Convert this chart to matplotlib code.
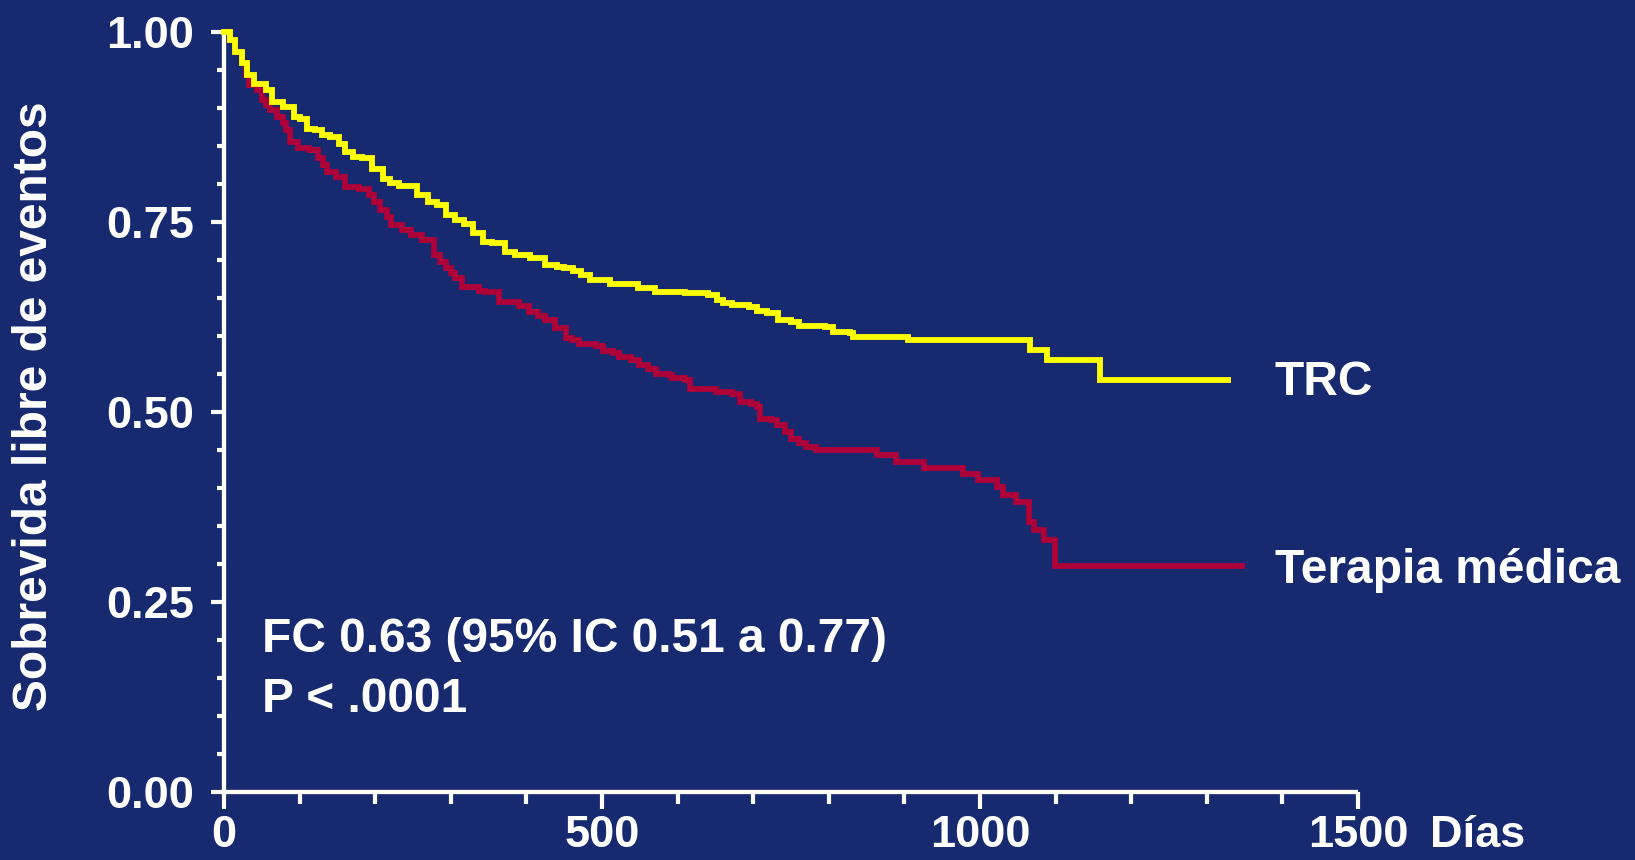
import matplotlib
matplotlib.use("Agg")
import matplotlib.pyplot as plt
from matplotlib.ticker import MultipleLocator, FormatStrFormatter
import matplotlib.transforms as mtransforms

# ---------------- data (Kaplan-Meier steps) ----------------
trc_days = [0, 8, 15, 24, 30, 40, 55, 64, 78, 92, 100, 110, 120, 130, 140, 152, 160,
            170, 182, 196, 210, 220, 232, 255, 270, 282, 294, 305, 318, 330, 342, 355,
            372, 385, 405, 425, 440, 450, 462, 472, 484, 510, 548, 570, 610, 640, 652,
            660, 672, 694, 705, 718, 733, 750, 760, 795, 806, 828, 832, 905, 1066,
            1089, 1159, 1328]
trc_surv = [1.0, 0.989, 0.974, 0.959, 0.943, 0.932, 0.924, 0.908, 0.901, 0.888, 0.886,
            0.873, 0.871, 0.864, 0.862, 0.852, 0.842, 0.836, 0.834, 0.820, 0.807, 0.801,
            0.798, 0.786, 0.776, 0.772, 0.759, 0.752, 0.748, 0.735, 0.724, 0.722, 0.711,
            0.707, 0.702, 0.693, 0.691, 0.689, 0.685, 0.680, 0.674, 0.669, 0.663, 0.658,
            0.657, 0.654, 0.647, 0.644, 0.641, 0.638, 0.633, 0.630, 0.621, 0.619, 0.613,
            0.612, 0.605, 0.604, 0.599, 0.595, 0.582, 0.569, 0.542, 0.542]

med_days = [0, 8, 15, 24, 29, 33, 44, 50, 56, 61, 70, 78, 82, 87, 98, 112, 124, 131,
            136, 148, 160, 178, 192, 198, 207, 215, 221, 235, 248, 262, 278, 286, 294,
            300, 306, 315, 337, 345, 364, 390, 403, 415, 425, 438, 452, 460, 469, 492,
            501, 515, 523, 538, 549, 561, 571, 588, 592, 610, 616, 651, 672, 682, 697,
            705, 709, 724, 732, 742, 750, 760, 770, 783, 864, 889, 926, 978, 998, 1022,
            1030, 1048, 1065, 1071, 1084, 1099, 1346]
med_surv = [1.0, 0.989, 0.974, 0.959, 0.943, 0.930, 0.924, 0.911, 0.904, 0.897, 0.888,
            0.880, 0.871, 0.855, 0.847, 0.845, 0.834, 0.825, 0.816, 0.809, 0.796, 0.793,
            0.785, 0.776, 0.766, 0.756, 0.746, 0.740, 0.733, 0.726, 0.707, 0.698, 0.689,
            0.683, 0.676, 0.665, 0.659, 0.658, 0.645, 0.639, 0.632, 0.626, 0.621, 0.610,
            0.597, 0.595, 0.590, 0.587, 0.580, 0.578, 0.572, 0.569, 0.562, 0.557, 0.550,
            0.549, 0.545, 0.542, 0.530, 0.526, 0.524, 0.513, 0.511, 0.507, 0.491, 0.490,
            0.483, 0.474, 0.464, 0.459, 0.454, 0.450, 0.444, 0.434, 0.426, 0.418, 0.411,
            0.401, 0.391, 0.381, 0.355, 0.345, 0.332, 0.298, 0.298]

x_ticks = [0, 500, 1000, 1500]
y_ticks = [0.0, 0.25, 0.50, 0.75, 1.00]
y_label = "Sobrevida libre de eventos"
x_unit = "Días"
series_names = ["TRC", "Terapia médica"]
stats_lines = ["FC 0.63 (95% IC 0.51 a 0.77)", "P < .0001"]

# ---------------- style ----------------
BG = "#172A6F"
YEL = "#FFFF00"
RED = "#AE0039"
WHITE = "#FFFFFF"
plt.rcParams["font.family"] = ["Liberation Sans", "DejaVu Sans"]
plt.rcParams["font.weight"] = "bold"

TICK_FS = 32.5
TXT_FS = 34.5
XMAJ_LEN = 12.5
XPAD = 4

fig = plt.figure(figsize=(16.35, 8.6), dpi=100, facecolor=BG)
ax = fig.add_axes([224 / 1635, 1 - 792 / 860, (1358 - 224) / 1635, (792 - 32) / 860])
ax.set_facecolor(BG)

ax.step(med_days, med_surv, where="post", color=RED, lw=4.2, clip_on=False,
        solid_joinstyle="miter", zorder=3)
ax.step(trc_days, trc_surv, where="post", color=YEL, lw=4.2, clip_on=False,
        solid_joinstyle="miter", zorder=4)

ax.set_xlim(0, 1500)
ax.set_ylim(0, 1.0)

for s in ["top", "right"]:
    ax.spines[s].set_visible(False)
for s in ["left", "bottom"]:
    ax.spines[s].set_color(WHITE)
    ax.spines[s].set_linewidth(3.1)
    ax.spines[s].set_capstyle("butt")

ax.set_xticks(x_ticks)
ax.set_yticks(y_ticks)
ax.xaxis.set_minor_locator(MultipleLocator(100))
ax.yaxis.set_minor_locator(MultipleLocator(0.05))
ax.yaxis.set_major_formatter(FormatStrFormatter("%.2f"))

ax.tick_params(axis="y", which="major", direction="out", length=9.5, width=3,
               color=WHITE, labelcolor=WHITE, labelsize=TICK_FS, pad=12)
ax.tick_params(axis="y", which="minor", direction="out", length=5, width=3, color=WHITE)
ax.tick_params(axis="x", which="major", direction="out", length=XMAJ_LEN, width=3,
               color=WHITE, labelcolor=WHITE, labelsize=TICK_FS, pad=XPAD)
ax.tick_params(axis="x", which="minor", direction="out", length=8.5, width=3, color=WHITE)
for lab in ax.get_xticklabels() + ax.get_yticklabels():
    lab.set_fontweight("bold")

# unit label after the last x tick, aligned with the tick labels
ax.annotate(x_unit, xy=(1595, 0), xycoords=ax.get_xaxis_transform(),
            xytext=(0, -(XMAJ_LEN + XPAD)), textcoords="offset points",
            color=WHITE, fontsize=TICK_FS, fontweight="bold", ha="left", va="top",
            annotation_clip=False)

# y label
fig.text(35 / 1635, 1 - 406 / 860, y_label, rotation=90, color=WHITE, fontsize=34.5,
         fontweight="bold", ha="center", va="center")

# stats text
ax.text(50, 0.184, stats_lines[0], color=WHITE, fontsize=TXT_FS, fontweight="bold",
        ha="left", va="baseline")
ax.text(50, 0.105, stats_lines[1], color=WHITE, fontsize=TXT_FS, fontweight="bold",
        ha="left", va="baseline")

# series labels
ax.text(1390, 0.522, series_names[0], color=WHITE, fontsize=TXT_FS, fontweight="bold",
        ha="left", va="baseline", clip_on=False)
ax.text(1390, 0.2746, series_names[1], color=WHITE, fontsize=TXT_FS, fontweight="bold",
        ha="left", va="baseline", clip_on=False)

fig.savefig("out.png", dpi=100, facecolor=BG)
